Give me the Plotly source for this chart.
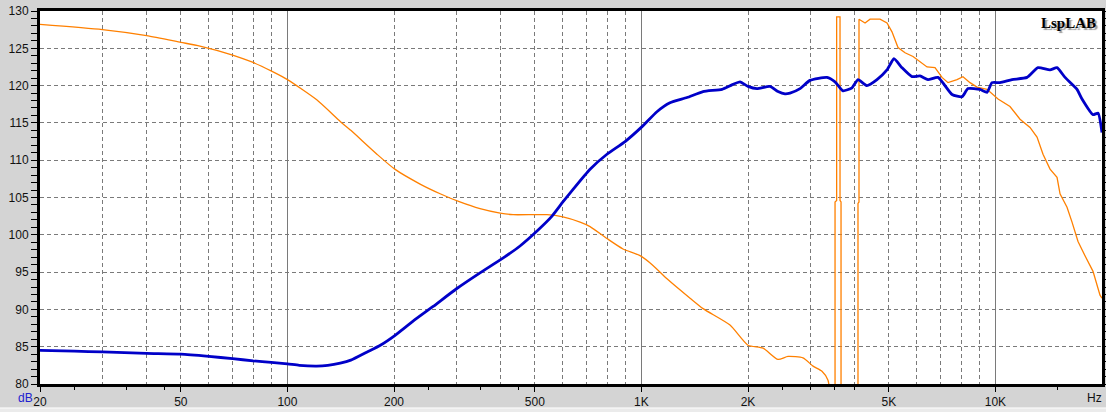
import numpy as np
import plotly.graph_objects as go

# ---- data ----
blue_freq = [20, 25, 30, 40, 50, 60, 70, 80, 90, 100, 108, 121, 130, 141, 151, 168, 183, 201, 226,
             258, 301, 350, 404, 454, 507, 559, 600, 641, 716, 799, 899, 1004, 1106, 1204, 1345,
             1493, 1689, 1802, 1899, 2000, 2120, 2307, 2431, 2544, 2628, 2806, 2993, 3343, 3522,
             3710, 3933, 4090, 4336, 4628, 4939, 5169, 5445, 5811, 6122, 6449, 6883, 7541, 8046,
             8366, 9046, 9468, 9779, 10300, 11140, 12282, 13190, 14260, 14926, 15727, 17002,
             17563, 18866, 19500, 20000]
blue_db = [84.5, 84.4, 84.3, 84.1, 84.0, 83.7, 83.4, 83.1, 82.9, 82.7, 82.5, 82.4, 82.5, 82.8,
           83.2, 84.3, 85.2, 86.5, 88.4, 90.4, 92.8, 94.9, 96.8, 98.5, 100.5, 102.5, 104.4, 106.1,
           108.8, 110.8, 112.5, 114.5, 116.5, 117.7, 118.4, 119.2, 119.5, 120.1, 120.5, 119.9,
           119.6, 119.9, 119.2, 118.9, 119.0, 119.6, 120.7, 121.1, 120.5, 119.3, 119.7, 120.8,
           120.0, 120.8, 122.1, 123.6, 122.4, 121.2, 121.3, 120.8, 121.1, 118.8, 118.5, 119.6,
           119.5, 119.1, 120.4, 120.4, 120.8, 121.1, 122.4, 122.1, 122.4, 121.1, 119.5, 118.2,
           116.1, 116.3, 113.7]

orange_freq = [20, 30, 40, 50, 56.6, 70, 80, 90.5, 100, 121, 141, 151, 179, 201, 237, 270, 307,
               350, 399, 434, 541, 600, 671, 716, 799, 887, 991, 1078, 1181, 1372, 1493, 1779,
               2000, 2205, 2431, 2594, 2860, 3053, 3236, 3365, 3432, 3523, 3523, 3560, 3560,
               3639, 3639, 3663, 3663, 4090, 4090, 4117, 4117, 4282, 4424, 4720, 4940, 5102,
               5306, 5554, 5850, 6122, 6408, 6750, 7064, 7345, 7789, 8098, 8476, 8872, 9466,
               10170, 10994, 11733, 12522, 13106, 13628, 14264, 14928, 15222, 15930, 16458,
               17112, 17908, 18864, 19744, 20000]
orange_db = [128.2, 127.5, 126.7, 125.8, 125.3, 124.1, 123.1, 121.9, 120.8, 118.1, 115.2, 114.0,
             110.8, 108.8, 106.8, 105.5, 104.4, 103.5, 102.9, 102.7, 102.7, 102.4, 101.7, 101.1,
             99.5, 98.1, 97.2, 95.9, 94.1, 91.5, 90.1, 87.9, 85.2, 84.8, 83.3, 83.7, 83.5, 82.4,
             81.7, 80.5, 77.0, 70.0, 104.4, 104.6, 129.2, 129.2, 104.6, 104.4, 70.0, 70.0, 104.2,
             104.4, 128.9, 128.4, 128.9, 128.9, 128.4, 127.2, 125.1, 124.4, 123.9, 123.2, 122.5,
             122.4, 121.1, 120.4, 120.8, 121.2, 120.4, 119.8, 119.5, 118.2, 117.2, 115.5, 114.4,
             113.1, 110.8, 108.8, 107.7, 105.5, 103.7, 101.7, 99.1, 97.2, 95.1, 91.9, 91.5]

x_tick_vals = [20, 50, 100, 200, 500, 1000, 2000, 5000, 10000]
x_tick_text = ["20", "50", "100", "200", "500", "1K", "2K", "5K", "10K"]
x_grid_vals = [30, 40, 60, 70, 80, 90, 300, 400, 600, 700, 800, 900,
               3000, 4000, 6000, 7000, 8000, 9000, 20000]
x_decade_vals = [100, 1000, 10000]
x_extra_ticks = [25, 35, 45, 250, 350, 450, 2500, 3000, 3500, 4000, 15000]
y_tick_vals = [80, 85, 90, 95, 100, 105, 110, 115, 120, 125, 130]

GRID = "#7a7a7a"
FONT = "Liberation Sans, Arial, sans-serif"
ORANGE = "#ff8000"

# smooth part of the orange curve ends where it drops below the chart (3432 Hz)
split = orange_freq.index(3432) + 1

fig = go.Figure()
fig.add_trace(go.Scatter(x=orange_freq[:split], y=orange_db[:split], mode="lines",
                         line=dict(color=ORANGE, width=1.3, shape="spline", smoothing=0.6),
                         hoverinfo="skip"))
fig.add_trace(go.Scatter(x=orange_freq[split - 1:], y=orange_db[split - 1:], mode="lines",
                         line=dict(color=ORANGE, width=1.3), hoverinfo="skip"))
fig.add_trace(go.Scatter(x=blue_freq, y=blue_db, mode="lines",
                         line=dict(color="#0000c8", width=2.8, shape="spline", smoothing=0.5),
                         hoverinfo="skip"))
fig.add_trace(go.Scatter(x=[], y=[], xaxis="x2", mode="lines", hoverinfo="skip"))

fig.update_layout(
    width=1106, height=412,
    margin=dict(l=40, r=4, t=11, b=28, autoexpand=False),
    paper_bgcolor="#d4d4d4", plot_bgcolor="white",
    showlegend=False,
    xaxis=dict(
        type="log", range=[np.log10(20), np.log10(20000)], automargin=False,
        tickvals=x_tick_vals, ticktext=x_tick_text,
        ticks="outside", ticklen=5, tickcolor="black", tickwidth=1,
        showline=True, linecolor="black", linewidth=3, mirror=True,
        showgrid=True, gridcolor=GRID, gridwidth=1, griddash="4px,3px",
        minor=dict(tickvals=x_grid_vals, showgrid=True, gridcolor=GRID,
                   griddash="4px,3px", gridwidth=1, ticks=""),
        tickfont=dict(family=FONT, size=12, color="#111"),
        zeroline=False,
    ),
    xaxis2=dict(
        type="log", range=[np.log10(20), np.log10(20000)], automargin=False,
        overlaying="x", anchor="y", side="bottom",
        tickvals=x_decade_vals, showticklabels=False, ticks="",
        showgrid=True, gridcolor=GRID, gridwidth=1,
        minor=dict(tickvals=x_extra_ticks, ticks="outside", ticklen=5,
                   tickcolor="black", showgrid=False),
        showline=False, zeroline=False,
    ),
    yaxis=dict(
        range=[80, 130], tickvals=y_tick_vals, automargin=False,
        ticks="outside", ticklen=6, tickcolor="black", tickwidth=1,
        minor=dict(dtick=1, ticks="outside", ticklen=3, tickcolor="black", showgrid=False),
        showline=True, linecolor="black", linewidth=3, mirror="allticks",
        showgrid=True, gridcolor=GRID, gridwidth=1, griddash="4px,3px",
        tickfont=dict(family=FONT, size=12, color="#111"),
        zeroline=False,
    ),
    annotations=[
        dict(text="<b>LspLAB</b>", xref="paper", yref="paper", x=0.968, y=0.968,
             xanchor="center", yanchor="middle", showarrow=False,
             font=dict(family="Liberation Serif, Times New Roman, serif", size=15,
                       color="black", shadow="2px 2px 1px #9a9a9a")),
        dict(text="dB", xref="paper", yref="paper", x=-0.0132, y=-0.0375,
             xanchor="center", yanchor="middle", showarrow=False,
             font=dict(family=FONT, size=12, color="#2020d0")),
        dict(text="Hz", xref="paper", yref="paper", x=0.9934, y=-0.0375,
             xanchor="center", yanchor="middle", showarrow=False,
             font=dict(family=FONT, size=12, color="#111")),
    ],
    shapes=[
        dict(type="rect", xref="paper", yref="paper", x0=-0.05, x1=1.01,
             y0=-0.0643, y1=-0.08, line=dict(width=0), fillcolor="#ebebeb", layer="below"),
        dict(type="line", xref="paper", yref="paper", x0=-0.05, x1=1.01,
             y0=-0.0643, y1=-0.0643, line=dict(width=1, color="#ffffff"), layer="below"),
    ],
)

fig.write_html(
    "out.html",
    config={"displayModeBar": False, "staticPlot": True},
    post_script=("document.body.style.margin='0';"
                 "document.body.style.overflow='hidden';"
                 "document.documentElement.style.overflow='hidden';"),
)
